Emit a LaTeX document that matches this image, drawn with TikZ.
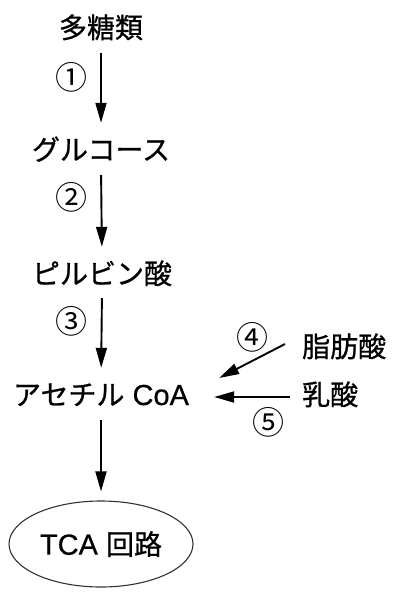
\documentclass[tikz,border=0pt]{standalone}
\usepackage{fontspec}
\newfontfamily\cjk[FakeBold=0.8]{Noto Sans CJK JP}
\newfontfamily\cjknum{Noto Sans CJK JP}
\newfontfamily\lat[FakeBold=0.5]{Liberation Sans}
\usetikzlibrary{arrows.meta,shapes.geometric}
\begin{document}
\begin{tikzpicture}[x=1pt,y=-1pt,
  lbl/.style={font=\cjk\fontsize{28}{28}\selectfont, inner sep=0pt, text height=22pt, text depth=6pt},
  num/.style={font=\cjknum\fontsize{32}{32}\selectfont, inner sep=0pt},
  arr/.style={line width=1.9pt, -{Triangle[length=20pt,width=11pt]}},
  tca/.style={ellipse, draw=black!80, line width=1.1pt, minimum width=184pt, minimum height=86pt, inner sep=0pt, font=\cjk\fontsize{28}{28}\selectfont}]
\useasboundingbox (0,0) rectangle (400,601);
\node[lbl] (a) at (101,30) {多糖類};
\node[lbl] (b) at (101,152) {グルコース};
\node[lbl] (c) at (102,276) {ピルビン酸};
\node[lbl] (d) at (101,397) {アセチル{\lat\fontsize{29}{29}\selectfont\ CoA}};
\node[lbl, anchor=west] (fa) at (302,349) {脂肪酸};
\node[lbl, anchor=west] (la) at (302,397) {乳酸};
\node[tca] (e) at (101,544) {{\lat\fontsize{29}{29}\selectfont TCA\ }回路};
\node[num] (n1) at (71,77) {①};
\node[num] (n2) at (71,197) {②};
\node[num] (n3) at (71,321) {③};
\node[num] (n4) at (252,337) {④};
\node[num] (n5) at (268,422) {⑤};
\draw[arr, shorten <=9pt, shorten >=15pt] (a.south) -- (b.north);
\draw[arr, shorten <=9pt, shorten >=15pt] (b.south) -- (c.north);
\draw[arr, shorten <=8pt, shorten >=15pt] (c.south) -- (d.north);
\draw[arr, shorten <=9pt, shorten >=9pt] (d.south) -- (e.north);
\coordinate (p4s) at ([xshift=-17pt,yshift=5pt]fa.west);
\coordinate (p4e) at ([xshift=30pt,yshift=19pt]d.east);
\draw[arr] (p4s) -- (p4e);
\draw[arr, shorten <=12pt, shorten >=25pt] (la.west) -- (d.east);
\end{tikzpicture}
\end{document}
